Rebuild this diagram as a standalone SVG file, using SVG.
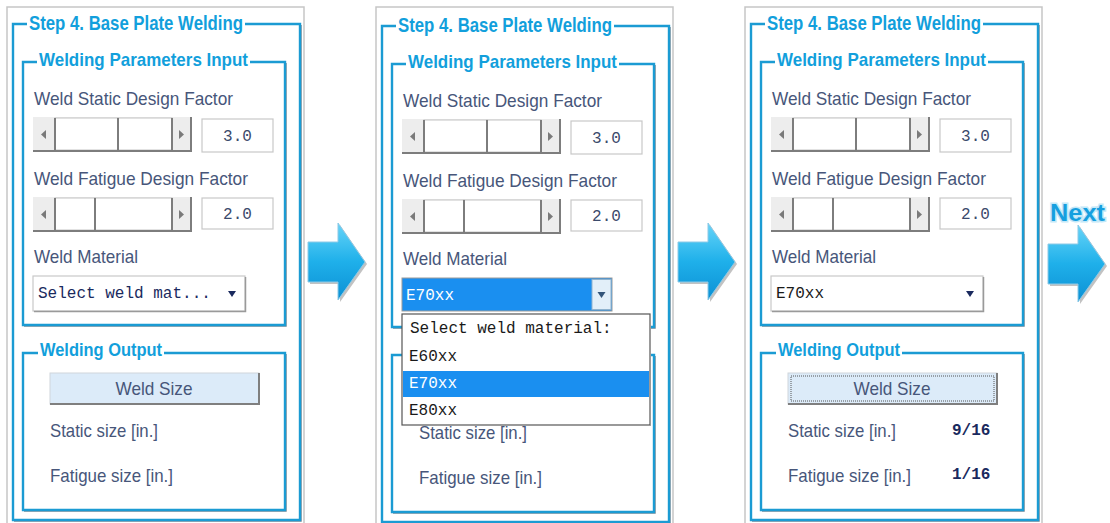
<svg xmlns="http://www.w3.org/2000/svg" width="1110" height="523" viewBox="0 0 1110 523">
  <style>
    .panel-bg { fill: #ffffff; stroke: #c6c6c6; stroke-width: 1.5; }
    .frame-sh { fill: none; stroke: #a4a9ae; stroke-width: 1; }
    .frame { fill: none; stroke: #1b9bd3; stroke-width: 2.4; }
    .ttl { font-family: "Liberation Sans", Arial, sans-serif; font-weight: bold; fill: #129fdc; }
    .lbl { font-family: "Liberation Sans", Arial, sans-serif; font-size: 19px; fill: #47567a; }
    .mono { font-family: "Liberation Mono", "Courier New", monospace; font-size: 16px; }
    .track { fill: #ededed; }
    .thumb { fill: #ffffff; stroke: #c4c4c4; stroke-width: 1; }
    .edge { fill: none; stroke: #7d7d7d; stroke-width: 2; }
    .tri { fill: #7a7a7a; }
    .valbox { fill: #ffffff; stroke: #c8c8c8; stroke-width: 1.2; }
    .val { fill: #3b4a6b; }
    .combo { fill: #ffffff; stroke: #c9c9c9; stroke-width: 1.2; }
    .combo-sh { fill: none; stroke: #9a9a9a; stroke-width: 1.5; }
    .btn { fill: #dcebf9; stroke: #d0d6dc; stroke-width: 1; }
    .btn-sh { fill: none; stroke: #7f7f7f; stroke-width: 2; }
    .navy { fill: #1a2a5e; }
    .arrow { fill: url(#arrowFill); stroke: #8cc9e6; stroke-width: 1; }
    .arrow-sh { fill: #c2c2c2; }
  </style>
  <defs>
    <linearGradient id="arrowFill" x1="0" y1="0" x2="0" y2="1">
      <stop offset="0" stop-color="#66d4f8"/>
      <stop offset="0.5" stop-color="#1fb0ea"/>
      <stop offset="1" stop-color="#0c90d4"/>
    </linearGradient>
  </defs>

  <!-- Panel 1: initial state -->
  <g id="panel-initial">
    <rect class="panel-bg" x="7" y="7" width="297" height="530"/>
    <path class="frame-sh" d="M14,521.5 H301.5 V25"/>
    <path class="frame" d="M27,24 H13 V520 H300 V24 H245"/>
    <text class="ttl" x="29" y="30" font-size="21" textLength="214" lengthAdjust="spacingAndGlyphs">Step 4. Base Plate Welding</text>
    <path class="frame-sh" d="M24,326.5 H286.5 V63"/>
    <path class="frame" d="M37,62 H23 V325 H285 V62 H250"/>
    <text class="ttl" x="39" y="66" font-size="19" textLength="209" lengthAdjust="spacingAndGlyphs">Welding Parameters Input</text>

    <text class="lbl" x="34" y="105" textLength="199" lengthAdjust="spacingAndGlyphs">Weld Static Design Factor</text>
    <rect class="track" x="33" y="117" width="159" height="35"/>
    <rect class="thumb" x="55" y="118" width="63" height="32"/>
    <rect class="thumb" x="118" y="118" width="54" height="32"/>
    <path class="edge" d="M33,151 H192 M191,117 V152 M55,118 V150 M118,118 V150 M172,118 V150"/>
    <path class="tri" d="M46,130 L41,134.5 L46,139 Z"/>
    <path class="tri" d="M179,130 L184,134.5 L179,139 Z"/>
    <rect class="valbox" x="202" y="119" width="71" height="33"/>
    <text class="mono val" x="237.5" y="141" text-anchor="middle">3.0</text>

    <text class="lbl" x="34" y="185" textLength="214" lengthAdjust="spacingAndGlyphs">Weld Fatigue Design Factor</text>
    <rect class="track" x="33" y="197" width="159" height="35"/>
    <rect class="thumb" x="55" y="198" width="40" height="32"/>
    <rect class="thumb" x="95" y="198" width="77" height="32"/>
    <path class="edge" d="M33,231 H192 M191,197 V232 M55,198 V230 M95,198 V230 M172,198 V230"/>
    <path class="tri" d="M46,210 L41,214.5 L46,219 Z"/>
    <path class="tri" d="M179,210 L184,214.5 L179,219 Z"/>
    <rect class="valbox" x="202" y="198" width="71" height="31"/>
    <text class="mono val" x="237.5" y="219" text-anchor="middle">2.0</text>

    <text class="lbl" x="34" y="263" textLength="104" lengthAdjust="spacingAndGlyphs">Weld Material</text>
    <rect class="combo" x="33" y="276" width="212" height="35"/>
    <path class="combo-sh" d="M34,311.5 H245.5 V277"/>
    <text class="mono navy" x="38" y="298">Select weld mat...</text>
    <path class="navy" d="M228,291 H236 L232,297 Z"/>

    <path class="frame-sh" d="M24,511.5 H286.5 V354"/>
    <path class="frame" d="M38,353 H23 V510 H285 V353 H164"/>
    <text class="ttl" x="40" y="356" font-size="19" textLength="122" lengthAdjust="spacingAndGlyphs">Welding Output</text>
    <rect class="btn" x="50" y="373" width="209" height="31"/>
    <path class="btn-sh" d="M50,404 H259 V373"/>
    <text class="lbl" x="154" y="395" text-anchor="middle" textLength="77" lengthAdjust="spacingAndGlyphs">Weld Size</text>
    <text class="lbl" x="50" y="437" textLength="108" lengthAdjust="spacingAndGlyphs">Static size [in.]</text>
    <text class="lbl" x="50" y="482" textLength="123" lengthAdjust="spacingAndGlyphs">Fatigue size [in.]</text>
  </g>

  <!-- Panel 2: material list opened -->
  <g id="panel-select" transform="translate(369,2)">
    <rect class="panel-bg" x="7" y="5" width="297" height="530"/>
    <path class="frame-sh" d="M14,521.5 H301.5 V25"/>
    <path class="frame" d="M27,24 H13 V520 H300 V24 H245"/>
    <text class="ttl" x="29" y="30" font-size="21" textLength="214" lengthAdjust="spacingAndGlyphs">Step 4. Base Plate Welding</text>
    <path class="frame-sh" d="M24,326.5 H286.5 V63"/>
    <path class="frame" d="M37,62 H23 V325 H285 V62 H250"/>
    <text class="ttl" x="39" y="66" font-size="19" textLength="209" lengthAdjust="spacingAndGlyphs">Welding Parameters Input</text>

    <text class="lbl" x="34" y="105" textLength="199" lengthAdjust="spacingAndGlyphs">Weld Static Design Factor</text>
    <rect class="track" x="33" y="117" width="159" height="35"/>
    <rect class="thumb" x="55" y="118" width="63" height="32"/>
    <rect class="thumb" x="118" y="118" width="54" height="32"/>
    <path class="edge" d="M33,151 H192 M191,117 V152 M55,118 V150 M118,118 V150 M172,118 V150"/>
    <path class="tri" d="M46,130 L41,134.5 L46,139 Z"/>
    <path class="tri" d="M179,130 L184,134.5 L179,139 Z"/>
    <rect class="valbox" x="202" y="119" width="71" height="33"/>
    <text class="mono val" x="237.5" y="141" text-anchor="middle">3.0</text>

    <text class="lbl" x="34" y="185" textLength="214" lengthAdjust="spacingAndGlyphs">Weld Fatigue Design Factor</text>
    <rect class="track" x="33" y="197" width="159" height="35"/>
    <rect class="thumb" x="55" y="198" width="40" height="32"/>
    <rect class="thumb" x="95" y="198" width="77" height="32"/>
    <path class="edge" d="M33,231 H192 M191,197 V232 M55,198 V230 M95,198 V230 M172,198 V230"/>
    <path class="tri" d="M46,210 L41,214.5 L46,219 Z"/>
    <path class="tri" d="M179,210 L184,214.5 L179,219 Z"/>
    <rect class="valbox" x="202" y="198" width="71" height="31"/>
    <text class="mono val" x="237.5" y="219" text-anchor="middle">2.0</text>

    <text class="lbl" x="34" y="263" textLength="104" lengthAdjust="spacingAndGlyphs">Weld Material</text>

    <!-- output frame; its caption and button sit under the open list -->
    <path class="frame-sh" d="M24,511.5 H286.5 V354"/>
    <path class="frame" d="M285,353 H23 V510 H285 Z"/>
    <text class="lbl" x="50" y="437" textLength="108" lengthAdjust="spacingAndGlyphs">Static size [in.]</text>
    <text class="lbl" x="50" y="482" textLength="123" lengthAdjust="spacingAndGlyphs">Fatigue size [in.]</text>

    <!-- focused combo box -->
    <rect x="33" y="276" width="210" height="33" fill="#1a8ff0" stroke="#9a9a9a" stroke-width="1"/>
    <text class="mono" x="37" y="298" fill="#ffffff">E70xx</text>
    <rect x="223" y="277.5" width="19" height="30" fill="#e2eff9" stroke="#8fb3cf" stroke-width="1"/>
    <path d="M228.5,290 H236.5 L232.5,296 Z" fill="#33557a"/>

    <!-- drop-down list -->
    <rect x="33" y="312" width="248" height="111" fill="#ffffff" stroke="#555555" stroke-width="1.2"/>
    <path d="M34,423.5 H281.5 V313" fill="none" stroke="#9a9a9a" stroke-width="1"/>
    <text class="mono" x="41" y="331" fill="#1a1a1a">Select weld material:</text>
    <text class="mono" x="40" y="359" fill="#1a1a1a">E60xx</text>
    <rect x="34" y="369" width="246" height="26" fill="#1a8ff0"/>
    <text class="mono" x="40" y="386" fill="#ffffff">E70xx</text>
    <text class="mono" x="40" y="413" fill="#1a1a1a">E80xx</text>
  </g>

  <!-- Panel 3: sizes computed -->
  <g id="panel-result" transform="translate(738,0)">
    <rect class="panel-bg" x="7" y="7" width="297" height="530"/>
    <path class="frame-sh" d="M14,521.5 H301.5 V25"/>
    <path class="frame" d="M27,24 H13 V520 H300 V24 H245"/>
    <text class="ttl" x="29" y="30" font-size="21" textLength="214" lengthAdjust="spacingAndGlyphs">Step 4. Base Plate Welding</text>
    <path class="frame-sh" d="M24,326.5 H286.5 V63"/>
    <path class="frame" d="M37,62 H23 V325 H285 V62 H250"/>
    <text class="ttl" x="39" y="66" font-size="19" textLength="209" lengthAdjust="spacingAndGlyphs">Welding Parameters Input</text>

    <text class="lbl" x="34" y="105" textLength="199" lengthAdjust="spacingAndGlyphs">Weld Static Design Factor</text>
    <rect class="track" x="33" y="117" width="159" height="35"/>
    <rect class="thumb" x="55" y="118" width="63" height="32"/>
    <rect class="thumb" x="118" y="118" width="54" height="32"/>
    <path class="edge" d="M33,151 H192 M191,117 V152 M55,118 V150 M118,118 V150 M172,118 V150"/>
    <path class="tri" d="M46,130 L41,134.5 L46,139 Z"/>
    <path class="tri" d="M179,130 L184,134.5 L179,139 Z"/>
    <rect class="valbox" x="202" y="119" width="71" height="33"/>
    <text class="mono val" x="237.5" y="141" text-anchor="middle">3.0</text>

    <text class="lbl" x="34" y="185" textLength="214" lengthAdjust="spacingAndGlyphs">Weld Fatigue Design Factor</text>
    <rect class="track" x="33" y="197" width="159" height="35"/>
    <rect class="thumb" x="55" y="198" width="40" height="32"/>
    <rect class="thumb" x="95" y="198" width="77" height="32"/>
    <path class="edge" d="M33,231 H192 M191,197 V232 M55,198 V230 M95,198 V230 M172,198 V230"/>
    <path class="tri" d="M46,210 L41,214.5 L46,219 Z"/>
    <path class="tri" d="M179,210 L184,214.5 L179,219 Z"/>
    <rect class="valbox" x="202" y="198" width="71" height="31"/>
    <text class="mono val" x="237.5" y="219" text-anchor="middle">2.0</text>

    <text class="lbl" x="34" y="263" textLength="104" lengthAdjust="spacingAndGlyphs">Weld Material</text>
    <rect class="combo" x="33" y="276" width="212" height="35"/>
    <path class="combo-sh" d="M34,311.5 H245.5 V277"/>
    <text class="mono" x="38" y="298" fill="#1a1a1a">E70xx</text>
    <path class="navy" d="M228,291 H236 L232,297 Z"/>

    <path class="frame-sh" d="M24,511.5 H286.5 V354"/>
    <path class="frame" d="M38,353 H23 V510 H285 V353 H164"/>
    <text class="ttl" x="40" y="356" font-size="19" textLength="122" lengthAdjust="spacingAndGlyphs">Welding Output</text>
    <rect class="btn" x="50" y="373" width="209" height="31"/>
    <path class="btn-sh" d="M50,404 H259 V373"/>
    <rect x="53" y="376" width="203" height="25" fill="none" stroke="#555555" stroke-width="1" stroke-dasharray="1,1"/>
    <text class="lbl" x="154" y="395" text-anchor="middle" textLength="77" lengthAdjust="spacingAndGlyphs">Weld Size</text>
    <text class="lbl" x="50" y="437" textLength="108" lengthAdjust="spacingAndGlyphs">Static size [in.]</text>
    <text class="mono navy" x="214" y="435" font-weight="bold">9/16</text>
    <text class="lbl" x="50" y="482" textLength="123" lengthAdjust="spacingAndGlyphs">Fatigue size [in.]</text>
    <text class="mono navy" x="214" y="479" font-weight="bold">1/16</text>
  </g>

  <!-- Step arrows between panels -->
  <g id="connectors">
    <g id="arrow-1-2">
      <path class="arrow-sh" d="M310,244 H340 V225 L367,264 L340,302 V284 H310 Z"/>
      <path class="arrow" d="M308,242 H338 V223 L365,262 L338,300 V282 H308 Z"/>
    </g>
    <g id="arrow-2-3">
      <path class="arrow-sh" d="M680,244 H710 V225 L737,264 L710,302 V284 H680 Z"/>
      <path class="arrow" d="M678,242 H708 V223 L735,262 L708,300 V282 H678 Z"/>
    </g>
    <g id="arrow-next">
      <path class="arrow-sh" d="M1050,246 H1080 V227 L1107,266 L1080,304 V286 H1050 Z"/>
      <path class="arrow" d="M1048,244 H1078 V225 L1105,264 L1078,302 V284 H1048 Z"/>
      <text x="1050" y="221" font-family="Liberation Sans, Arial, sans-serif" font-weight="bold" font-size="24" fill="#169fdf" stroke="#c4e8f8" stroke-width="3" paint-order="stroke" textLength="55" lengthAdjust="spacingAndGlyphs">Next</text>
    </g>
  </g>
</svg>
